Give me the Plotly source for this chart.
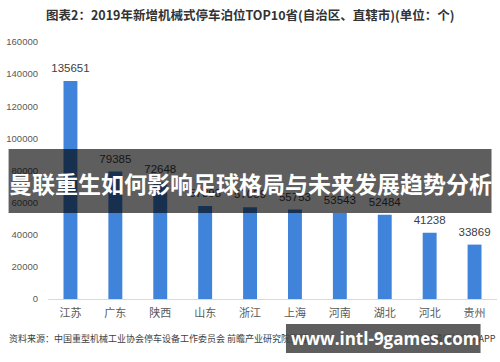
import plotly.graph_objects as go

provinces = ["江苏", "广东", "陕西", "山东", "浙江", "上海", "河南", "湖北", "河北", "贵州"]
spaces = [135651, 79385, 72648, 57898, 57059, 55753, 53543, 52484, 41238, 33869]
y_ticks = [0, 20000, 40000, 60000, 80000, 100000, 120000, 140000, 160000]

title_text = "图表2：2019年新增机械式停车泊位TOP10省(自治区、直辖市)(单位：个)"
source_text = "资料来源：中国重型机械工业协会停车设备工作委员会 前瞻产业研究院整理"
credit_text = "@前瞻经济学人APP"
banner_text = "曼联重生如何影响足球格局与未来发展趋势分析"
site_text = "www.intl-9games.com"

W, H = 500, 362
L, R, T, B = 47.5, 2.5, 42, 63

fig = go.Figure()
fig.add_trace(go.Bar(
    x=provinces, y=spaces,
    marker=dict(color="#3f84da", line=dict(width=0)),
    hoverinfo="x+y",
))
fig.add_trace(go.Scatter(
    x=provinces, y=spaces, mode="markers+text",
    marker=dict(size=8, color="rgba(0,0,0,0)"),
    text=[str(v) for v in spaces], textposition="top center",
    textfont=dict(family="Liberation Sans", size=11.5, color="#404040"),
    cliponaxis=False, hoverinfo="skip",
))

fig.update_layout(
    width=W, height=H,
    margin=dict(l=L, r=R, t=T, b=B, autoexpand=False),
    paper_bgcolor="white", plot_bgcolor="white",
    bargap=0.69,
    showlegend=False,
    font=dict(family="Noto Sans CJK SC", color="#595959"),
    xaxis=dict(
        range=[-0.5, len(provinces) - 0.5],
        showgrid=False, showline=True, linecolor="#d9d9d9", linewidth=1,
        ticks="", tickfont=dict(size=11, color="#595959", family="Noto Sans CJK SC"),
        ticklabelstandoff=4, automargin=False,
    ),
    yaxis=dict(
        range=[0, 160000], tickvals=y_ticks, ticktext=[str(v) for v in y_ticks],
        showgrid=False, zeroline=False, showline=False,
        tickfont=dict(size=9.5, color="#595959", family="Liberation Sans"),
        ticklabelstandoff=9, automargin=False,
    ),
)

def px(xp):
    return (xp - L) / (W - L - R)

def py(yp):
    return (H - B - yp) / (H - T - B)

# title
fig.add_annotation(xref="paper", yref="paper", x=px(250), y=py(15),
                   text="<b>" + title_text + "</b>", showarrow=False, xanchor="center", yanchor="middle",
                   font=dict(size=12.5, color="#333333", family="Noto Sans CJK SC"))

# source & credit
fig.add_annotation(xref="paper", yref="paper", x=px(6), y=py(338), text=source_text, showarrow=False,
                   xanchor="left", yanchor="middle", font=dict(size=9, color="#404040"))
fig.add_annotation(xref="paper", yref="paper", x=px(499), y=py(338), text=credit_text, showarrow=False,
                   xanchor="right", yanchor="middle", font=dict(size=9, color="#404040"))

# overlay banner
fig.add_shape(type="rect", xref="paper", yref="paper", x0=px(8), x1=px(492), y0=py(213), y1=py(149),
              fillcolor="rgba(0,0,0,0.63)", line=dict(width=0), layer="above")
fig.add_annotation(xref="paper", yref="paper", x=px(250.5), y=py(183), text="<b>" + banner_text + "</b>",
                   showarrow=False, xanchor="center", yanchor="middle",
                   font=dict(size=23, color="white", family="Noto Sans CJK SC"))

# site banner
fig.add_shape(type="rect", xref="paper", yref="paper", x0=px(286), x1=px(481), y0=py(353), y1=py(324),
              fillcolor="rgba(0,0,0,0.63)", line=dict(width=0), layer="above")
fig.add_annotation(xref="paper", yref="paper", x=px(386), y=py(338), text="<b>" + site_text + "</b>",
                   showarrow=False, xanchor="center", yanchor="middle",
                   font=dict(size=17, color="white", family="Open Sans"))

fig.write_html("out.html", config={"displayModeBar": False},
               post_script="document.body.style.margin='0';")
